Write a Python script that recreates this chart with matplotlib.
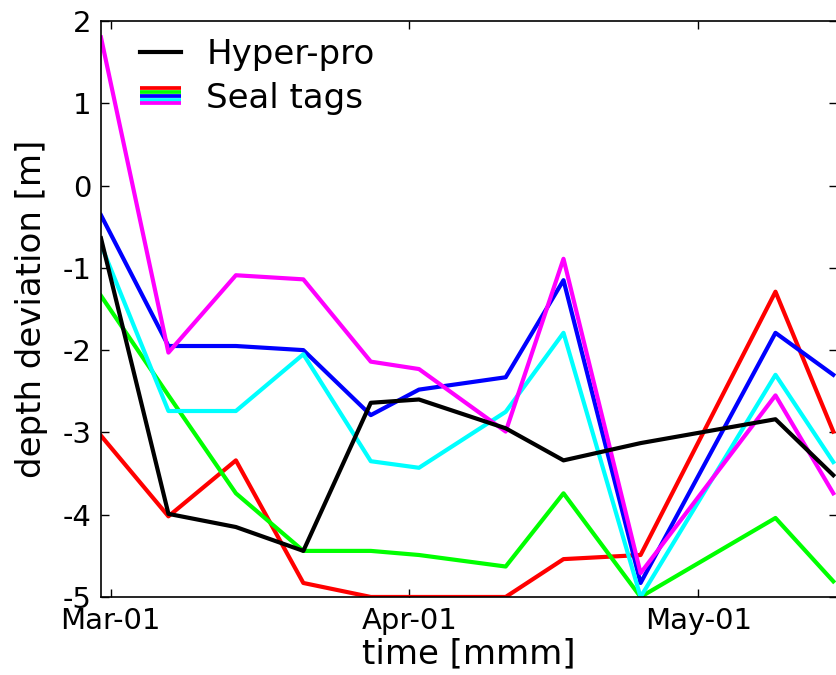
import datetime as dt
import matplotlib
matplotlib.use("Agg")
import matplotlib.pyplot as plt
import matplotlib.dates as mdates
from matplotlib.lines import Line2D
from matplotlib.legend_handler import HandlerBase

plt.rcParams['axes.unicode_minus'] = False
plt.rcParams['font.family'] = 'DejaVu Sans'

# sampling dates
dates = [dt.datetime(2014, 2, 28), dt.datetime(2014, 3, 7), dt.datetime(2014, 3, 14),
         dt.datetime(2014, 3, 21), dt.datetime(2014, 3, 28), dt.datetime(2014, 4, 2),
         dt.datetime(2014, 4, 11), dt.datetime(2014, 4, 17), dt.datetime(2014, 4, 25),
         dt.datetime(2014, 5, 9), dt.datetime(2014, 5, 15)]

hyperpro = [-0.64, -3.99, -4.15, -4.44, -2.64, -2.60, -2.95, -3.34, -3.13, -2.84, -3.52]

tag_red = [-3.04, -4.02, -3.34, -4.83, -5.0, -5.0, -5.0, -4.54, -4.49, -1.29, -2.99]
tag_green = [-1.34, -2.55, -3.74, -4.44, -4.44, -4.49, -4.63, -3.74, -5.0, -4.04, -4.81]
tag_blue = [-0.36, -1.95, -1.95, -2.0, -2.79, -2.48, -2.33, -1.15, -4.83, -1.79, -2.30]
tag_cyan = [-0.72, -2.74, -2.74, -2.05, -3.35, -3.43, -2.75, -1.79, -5.0, -2.30, -3.36]
tag_magenta = [1.80, -2.03, -1.09, -1.14, -2.14, -2.23, -2.99, -0.89, -4.71, -2.55, -3.74]

tags = [tag_red, tag_green, tag_blue, tag_cyan, tag_magenta]
tag_colors = ['#ff0000', '#00ff00', '#0000ff', '#00ffff', '#ff00ff']


class StripeHandler(HandlerBase):
    """Legend handle made of horizontal stripes, one per colour."""

    def __init__(self, colors, **kw):
        super().__init__(**kw)
        self.colors = colors

    def create_artists(self, legend, orig_handle, xdescent, ydescent,
                       width, height, fontsize, trans):
        n = len(self.colors)
        total = 0.55 * fontsize
        step = total / n
        top = height / 2 + total / 2 - ydescent
        artists = []
        for i, c in enumerate(self.colors):
            y = top - step * (i + 0.5)
            ln = Line2D([-xdescent, -xdescent + width], [y, y], color=c,
                        lw=step, solid_capstyle='butt', transform=trans)
            artists.append(ln)
        return artists


fig = plt.figure(figsize=(8.36, 6.75), dpi=100)
ax = fig.add_axes([0.1208, 0.1156, 0.8798, 0.8533])

for vals, c in zip(tags, tag_colors):
    ax.plot(dates, vals, color=c, lw=3)
h_line, = ax.plot(dates, hyperpro, color='black', lw=3)

ax.set_ylim(-5, 2)
ax.set_xlim(dt.datetime(2014, 2, 28), dt.datetime(2014, 5, 15, 8))
ax.xaxis.set_major_locator(mdates.MonthLocator())
ax.xaxis.set_major_formatter(mdates.DateFormatter('%b-%d'))
ax.set_yticks(range(-5, 3))

ax.tick_params(direction='in', top=True, right=True, length=6, width=1,
               labelsize=21, pad=7)
for s in ax.spines.values():
    s.set_linewidth(1.2)

ax.set_xlabel('time [mmm]', fontsize=24.5, labelpad=2)
ax.set_ylabel('depth deviation [m]', fontsize=24.5, labelpad=10)

stripe_key = Line2D([], [], color='none')
ax.legend([h_line, stripe_key], ['Hyper-pro', 'Seal tags'],
          handler_map={stripe_key: StripeHandler(tag_colors)},
          loc='upper left', bbox_to_anchor=(0.012, 1.024), frameon=False,
          fontsize=24.5, handlelength=1.18, handletextpad=0.76, labelspacing=0.32)

fig.savefig('out.png', dpi=100)
